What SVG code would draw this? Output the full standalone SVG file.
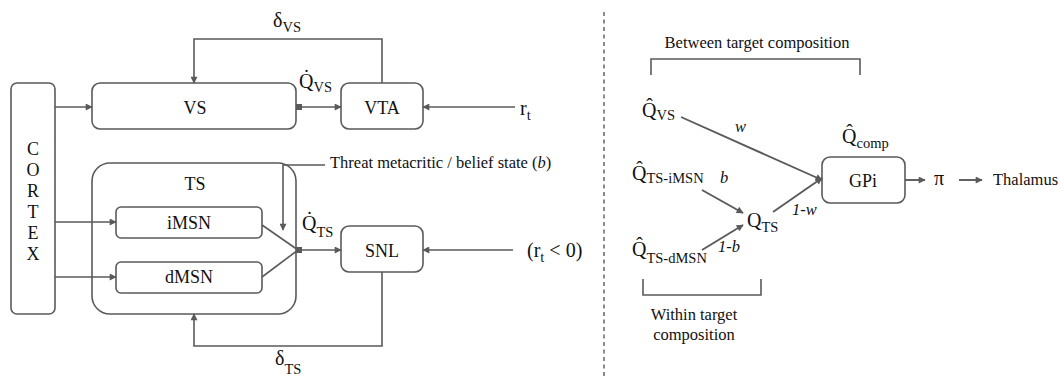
<svg xmlns="http://www.w3.org/2000/svg" width="1060" height="377" viewBox="0 0 1060 377">
<defs>
<style>
text{font-family:"Liberation Serif","Tinos","Nimbus Roman","FreeSerif","DejaVu Serif","Times New Roman",Times,serif;fill:#111}
.lbl{font-size:18px;text-anchor:middle}
.sm{font-size:16.5px}
.q{font-size:20px}
.sub{font-size:14.5px}
.it{font-style:italic}
.box{fill:#fff;stroke:#5a5a5a;stroke-width:1.6}
.ln{fill:none;stroke:#5a5a5a;stroke-width:1.6}
.lnr{fill:none;stroke:#5a5a5a;stroke-width:1.9}
</style>
<marker id="ah" viewBox="0 0 10 10" refX="9" refY="5" markerWidth="9" markerHeight="7" markerUnits="userSpaceOnUse" orient="auto"><path d="M0,0 L10,5 L0,10 z" fill="#5a5a5a"/></marker>
</defs>

<g id="cortex"><rect class="box" x="11" y="83" width="44" height="231" rx="6"/>
<text class="lbl" x="33" y="155">C</text><text class="lbl" x="33" y="176">O</text><text class="lbl" x="33" y="197">R</text><text class="lbl" x="33" y="218">T</text><text class="lbl" x="33" y="239">E</text><text class="lbl" x="33" y="260">X</text></g>
<g id="vs"><rect class="box" x="92" y="83" width="204" height="46" rx="8"/><text class="lbl" x="195" y="114">VS</text></g>
<g id="vta"><rect class="box" x="341" y="83" width="82" height="46" rx="8"/><text class="lbl" x="382" y="114">VTA</text></g>
<g id="ts"><rect class="box" x="92" y="163" width="204" height="151" rx="18"/><text class="lbl" x="195" y="190">TS</text></g>
<g id="imsn"><rect class="box" x="116" y="207" width="146" height="31" rx="5"/><text class="lbl" x="189" y="229">iMSN</text></g>
<g id="dmsn"><rect class="box" x="116" y="262" width="146" height="31" rx="5"/><text class="lbl" x="189" y="283">dMSN</text></g>
<g id="snl"><rect class="box" x="341" y="226" width="82" height="46" rx="8"/><text class="lbl" x="382" y="257">SNL</text></g>
<g id="gpi"><rect class="box" x="822" y="157" width="83" height="46" rx="8"/><text class="lbl" x="863" y="187">GPi</text></g>

<g id="connectors">
<line class="ln" x1="55" y1="107" x2="92" y2="107" marker-end="url(#ah)"/>
<line class="ln" x1="55" y1="222" x2="116" y2="222" marker-end="url(#ah)"/>
<line class="ln" x1="55" y1="277" x2="116" y2="277" marker-end="url(#ah)"/>
<line class="ln" x1="300" y1="107" x2="341" y2="107" marker-end="url(#ah)"/>
<rect x="296" y="104" width="6" height="6" fill="#5a5a5a"/>
<line class="ln" x1="515" y1="107" x2="423" y2="107" marker-end="url(#ah)"/>
<path class="ln" d="M382 83 V39 H194 V83" marker-end="url(#ah)"/>
<line class="ln" x1="262" y1="225" x2="298" y2="250"/>
<line class="ln" x1="262" y1="277" x2="298" y2="250"/>
<rect x="296" y="247" width="6" height="6" fill="#5a5a5a"/>
<line class="ln" x1="300" y1="250" x2="341" y2="250" marker-end="url(#ah)"/>
<line class="ln" x1="513" y1="250" x2="423" y2="250" marker-end="url(#ah)"/>
<path class="ln" d="M325 165 H283 V230" marker-end="url(#ah)"/>
<path class="ln" d="M382 272 V346 H194 V314" marker-end="url(#ah)"/>
<line x1="604" y1="12" x2="604" y2="377" stroke="#666" stroke-width="1.5" stroke-dasharray="4 3.5"/>
<path class="ln" d="M651 75 V59 H860 V75"/>
<path class="ln" d="M643 279 V295 H761 V279"/>
<line class="lnr" x1="681" y1="117" x2="822" y2="180" marker-end="url(#ah)"/>
<line class="lnr" x1="702" y1="190" x2="743" y2="213" marker-end="url(#ah)"/>
<line class="lnr" x1="702" y1="250" x2="743" y2="225" marker-end="url(#ah)"/>
<line class="lnr" x1="773" y1="212" x2="822" y2="178" marker-end="url(#ah)"/>
<line class="lnr" x1="905" y1="180" x2="925" y2="180" marker-end="url(#ah)"/>
<line class="lnr" x1="959" y1="180" x2="982" y2="180" marker-end="url(#ah)"/>
</g>

<g id="labels">
<text x="273" y="27" class="q">δ<tspan class="sub" dy="5">VS</tspan></text>
<text x="299" y="88" class="q">Q&#x307;<tspan class="sub" dy="4">VS</tspan></text>
<text x="302" y="230" class="q">Q&#x307;<tspan class="sub" dy="7">TS</tspan></text>
<text x="275" y="365" class="q">δ<tspan class="sub" dy="9">TS</tspan></text>
<text x="520" y="115" class="q">r<tspan class="sub" dy="5">t</tspan></text>
<text x="527" y="257" class="q">(r<tspan class="sub" dy="5">t</tspan><tspan dy="-5"> &lt; 0)</tspan></text>
<text x="330" y="168" class="sm">Threat metacritic / belief state (<tspan class="it">b</tspan>)</text>
<text x="757" y="48" class="sm" text-anchor="middle">Between target composition</text>
<text x="694" y="320" class="sm" text-anchor="middle">Within target</text>
<text x="694" y="340" class="sm" text-anchor="middle">composition</text>
<text x="642" y="117" class="q">Q&#x302;<tspan class="sub" dy="3">VS</tspan></text>
<text x="632" y="180" class="q">Q&#x302;<tspan class="sub" dy="3">TS-iMSN</tspan></text>
<text x="632" y="256" class="q">Q&#x302;<tspan class="sub" dy="7">TS-dMSN</tspan></text>
<text x="747" y="227" class="q">Q<tspan class="sub" dy="5">TS</tspan></text>
<text x="842" y="143" class="q">Q&#x302;<tspan class="sub" dy="5">comp</tspan></text>
<text x="735" y="132" class="sm it">w</text>
<text x="720" y="183" class="sm it">b</text>
<text x="718" y="252" class="sm it">1-b</text>
<text x="792" y="215" class="sm it">1-w</text>
<text x="934" y="185" class="q">π</text>
<text x="993" y="185" class="sm">Thalamus</text>
</g>
</svg>
